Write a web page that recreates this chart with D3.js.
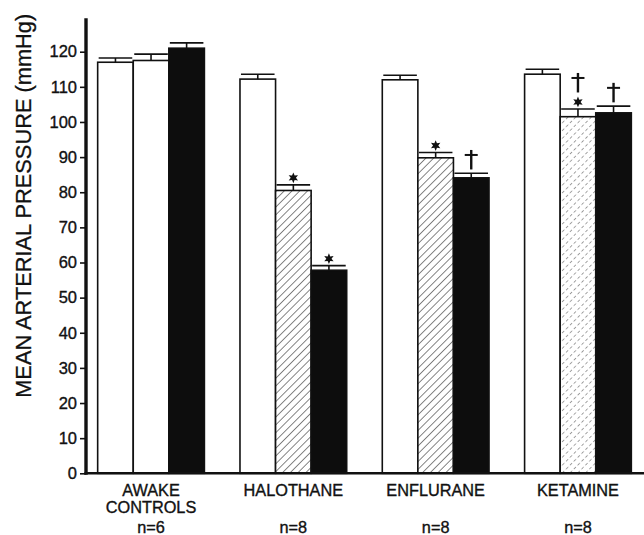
<!DOCTYPE html>
<html>
<head>
<meta charset="utf-8">
<script src="https://cdn.jsdelivr.net/npm/d3@7"></script>
<style>
  html, body { margin: 0; padding: 0; background: #fff; }
  svg { display: block; }
  text { font-family: "Liberation Sans", Arial, sans-serif; fill: #111; }
</style>
</head>
<body>
<svg id="chart" width="644" height="535"></svg>
<script>
// ---- data ----
const groups = ["AWAKE CONTROLS", "HALOTHANE", "ENFLURANE", "KETAMINE"];
const groupLabelLines = [["AWAKE", "CONTROLS"], ["HALOTHANE"], ["ENFLURANE"], ["KETAMINE"]];
const groupN = ["n=6", "n=8", "n=8", "n=8"];
const seriesKeys = ["s1", "s2", "s3"];
const series1 = [117.0, 112.2, 112.0, 113.6];
const series2 = [117.5, 80.5, 89.8, 101.5];
const series3 = [121.0, 57.8, 84.1, 102.6];
const err1 = [1.2, 1.4, 1.3, 1.4];
const err2 = [1.8, 1.6, 1.5, 2.2];
const err3 = [1.5, 1.3, 1.3, 1.9];
// fill style per group and series: "white", "hatch", "hatchLight", "black"
const fills = [["white", "white", "black"], ["white", "hatch", "black"], ["white", "hatch", "black"], ["white", "hatchLight", "black"]];
const stars = [[false, false, false], [false, true, true], [false, true, false], [false, true, false]];
const daggers = [[false, false, false], [false, false, false], [false, false, true], [false, true, true]];
const yTicks = [0, 10, 20, 30, 40, 50, 60, 70, 80, 90, 100, 110, 120];
const yAxisTop = 129.5;
const yLabel = "MEAN ARTERIAL PRESSURE (mmHg)";

const values = [series1, series2, series3];
const errs = [err1, err2, err3];

const svg = d3.select("#chart");

// ---- patterns ----
const defs = svg.append("defs");
const hatch = defs.append("pattern").attr("id", "hatch")
  .attr("patternUnits", "userSpaceOnUse").attr("width", 5.5).attr("height", 5.5)
  .attr("patternTransform", "rotate(45)");
hatch.append("rect").attr("width", 5.5).attr("height", 5.5).attr("fill", "#fff");
hatch.append("line").attr("x1", 0).attr("y1", 0).attr("x2", 0).attr("y2", 5.5)
  .attr("stroke", "#222").attr("stroke-width", 1.1);

const hatchLight = defs.append("pattern").attr("id", "hatchLight")
  .attr("patternUnits", "userSpaceOnUse").attr("width", 5.5).attr("height", 11)
  .attr("patternTransform", "rotate(45)");
hatchLight.append("rect").attr("width", 5.5).attr("height", 11).attr("fill", "#fff");
hatchLight.append("line").attr("x1", 0).attr("y1", 0).attr("x2", 0).attr("y2", 11)
  .attr("stroke", "#444").attr("stroke-width", 1).attr("stroke-dasharray", "3,2.5");

const fillMap = { white: "#fff", hatch: "url(#hatch)", hatchLight: "url(#hatchLight)", black: "#0d0d0d" };

// ---- scales ----
const y = d3.scaleLinear().domain([0, 120]).range([473.3, 51.7]);
const x0 = d3.scaleBand().domain(groups).range([86, 643]).paddingInner(0.25).paddingOuter(0.082);
const x1 = d3.scaleBand().domain(seriesKeys).range([0, x0.bandwidth()]);

const bars = [];
groups.forEach((g, gi) => {
  seriesKeys.forEach((k, si) => {
    bars.push({ g, gi, k, si, v: values[si][gi], e: errs[si][gi],
      fill: fills[gi][si], star: stars[gi][si], dagger: daggers[gi][si] });
  });
});

// ---- bars ----
const barG = svg.append("g");
barG.selectAll("rect").data(bars).join("rect")
  .attr("x", d => x0(d.g) + x1(d.k))
  .attr("y", d => y(d.v))
  .attr("width", x1.bandwidth())
  .attr("height", d => y(0) - y(d.v))
  .attr("fill", d => fillMap[d.fill])
  .attr("stroke", "#111").attr("stroke-width", 1.6);

// ---- error bars ----
const errG = svg.append("g").attr("stroke", "#111");
errG.selectAll("line.stem").data(bars).join("line").attr("class", "stem")
  .attr("x1", d => x0(d.g) + x1(d.k) + x1.bandwidth() / 2)
  .attr("x2", d => x0(d.g) + x1(d.k) + x1.bandwidth() / 2)
  .attr("y1", d => y(d.v)).attr("y2", d => y(d.v + d.e))
  .attr("stroke-width", 1.6);
errG.selectAll("line.cap").data(bars).join("line").attr("class", "cap")
  .attr("x1", d => x0(d.g) + x1(d.k) + 1)
  .attr("x2", d => x0(d.g) + x1(d.k) + x1.bandwidth() - 1)
  .attr("y1", d => y(d.v + d.e)).attr("y2", d => y(d.v + d.e))
  .attr("stroke-width", 1.6);

// ---- significance markers ----
function starPath(r, ri, n) {
  const pts = [];
  for (let i = 0; i < n * 2; i++) {
    const a = -Math.PI / 2 + i * Math.PI / n;
    const rr = i % 2 === 0 ? r : ri;
    pts.push([Math.cos(a) * rr, Math.sin(a) * rr]);
  }
  return d3.line()(pts) + "Z";
}
const markG = svg.append("g");
markG.selectAll("path.star").data(bars.filter(d => d.star)).join("path").attr("class", "star")
  .attr("d", starPath(5.4, 2.6, 6))
  .attr("fill", "#111")
  .attr("transform", d => `translate(${x0(d.g) + x1(d.k) + x1.bandwidth() / 2},${y(d.v + d.e) - 7})`);

const daggerG = markG.selectAll("g.dagger").data(bars.filter(d => d.dagger)).join("g").attr("class", "dagger")
  .attr("transform", d => {
    const bottom = y(d.v + d.e) - (d.star ? 16.5 : 3.8);
    return `translate(${x0(d.g) + x1(d.k) + x1.bandwidth() / 2},${bottom})`;
  })
  .attr("stroke", "#111").attr("stroke-width", 2.4);
daggerG.append("line").attr("x1", 0).attr("x2", 0).attr("y1", 0).attr("y2", -19.5);
daggerG.append("line").attr("x1", -6.5).attr("x2", 6.5).attr("y1", -14.5).attr("y2", -14.5).attr("stroke-width", 2);

// ---- axes ----
const yAxis = d3.axisLeft(y).tickValues(yTicks).tickSize(6).tickPadding(3).tickFormat(d3.format("d"));
const yg = svg.append("g").attr("transform", "translate(86,0)").call(yAxis);
yg.select(".domain").remove();
yg.selectAll(".tick line").attr("stroke", "#111").attr("stroke-width", 1.6);
yg.selectAll(".tick text").attr("font-size", 16.5).attr("fill", "#111")
  .attr("stroke", "#111").attr("stroke-width", 0.35)
  .attr("font-family", "'Liberation Sans', Arial, sans-serif");

svg.append("line").attr("x1", 86).attr("x2", 86).attr("y1", y(0) + 1.5).attr("y2", y(yAxisTop))
  .attr("stroke", "#111").attr("stroke-width", 3.4);
svg.append("line").attr("x1", 84.5).attr("x2", 644).attr("y1", y(0)).attr("y2", y(0))
  .attr("stroke", "#111").attr("stroke-width", 2.6);

// y label
svg.append("text")
  .attr("transform", `translate(31,${(y(0) + y(yAxisTop)) / 2 - 40}) rotate(-90)`)
  .attr("text-anchor", "middle")
  .attr("font-size", 22)
  .attr("stroke", "#111").attr("stroke-width", 0.3)
  .attr("textLength", 384).attr("lengthAdjust", "spacingAndGlyphs")
  .text(yLabel);

// category labels
const catG = svg.append("g").attr("text-anchor", "middle");
groups.forEach((g, gi) => {
  const cx = x0(g) + x0.bandwidth() / 2;
  groupLabelLines[gi].forEach((line, li) => {
    catG.append("text").attr("x", cx).attr("y", 495.5 + li * 17.8)
      .attr("text-anchor", "middle").attr("font-size", 16.3)
      .attr("stroke", "#111").attr("stroke-width", 0.35).text(line);
  });
  catG.append("text").attr("x", cx).attr("y", 533).attr("text-anchor", "middle")
    .attr("font-size", 16.3).attr("stroke", "#111").attr("stroke-width", 0.35).text(groupN[gi]);
});
</script>
</body>
</html>
